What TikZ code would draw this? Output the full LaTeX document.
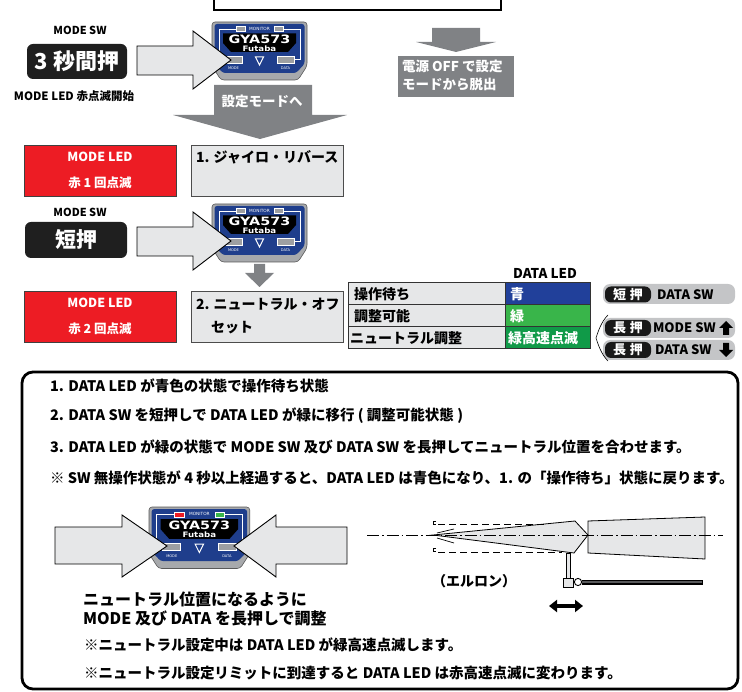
\documentclass[tikz,border=0pt]{standalone}
\usepackage{fontspec}
\setmainfont{Noto Sans CJK JP}
\newfontfamily\gyafont{DejaVu Sans}
\usetikzlibrary{arrows.meta}
\newcommand{\setfs}[1]{\fontsize{#1}{#1}\selectfont\bfseries}

\definecolor{ledred}{HTML}{ED1C24}
\definecolor{panel}{HTML}{E6E7E8}
\definecolor{flowgray}{HTML}{808285}
\definecolor{tblblue}{HTML}{21409A}
\definecolor{tblgreen}{HTML}{39B54A}
\definecolor{tbldkgreen}{HTML}{109A48}
\definecolor{devblue}{HTML}{1F3E8C}
\definecolor{devgray}{HTML}{A7A9AC}
\definecolor{btngray}{HTML}{9D9FA2}
\definecolor{pillgray}{HTML}{C4C5C7}
\definecolor{rodgray}{HTML}{58595B}

\tikzset{
  redbox/.style={fill=ledred, draw=black!75, line width=0.9, minimum width=152, minimum height=51, anchor=north west},
  panelbox/.style={fill=panel, draw=black!70, line width=0.9, minimum width=152, minimum height=51, anchor=north west},
  pressbox/.style={fill=black!88, rounded corners=6, anchor=north west, text=white},
  pusharrow/.style={fill=panel, draw=black, line width=0.9, line join=miter},
  flowarrow/.style={fill=flowgray},
  cell/.style={draw=black!80, line width=1, minimum width=#1, minimum height=22, anchor=north west},
  celltext/.style={anchor=west, font=\setfs{14}},
  pill/.style={fill=pillgray, rounded corners=7, minimum width=132, minimum height=20, anchor=north west},
  pillkey/.style={fill=black!90, rounded corners=6, text=white, font=\setfs{13}, minimum height=16, minimum width=46, anchor=west},
  pilltext/.style={anchor=west, font=\setfs{13}},
  note/.style={anchor=west, font=\setfs{14.5}},
  pics/gyro/.style 2 args={code={
    % housing with bevelled lower corners
    \fill[devgray, draw=black!65, line width=0.6, rounded corners=3]
      (0,0) -- (95,0) -- (95,44) -- (86,58) -- (9,58) -- (0,44) -- cycle;
    \fill[devblue, rounded corners=2.5]
      (2.5,2) -- (92.5,2) -- (92.5,42) -- (84,51) -- (11,51) -- (2.5,42) -- cycle;
    % white frame lines from the monitor LEDs to the buttons
    \draw[white, line width=0.7] (24,7) -- (7,7) -- (7,37.5) -- (13,37.5);
    \draw[white, line width=0.7] (71,7) -- (88,7) -- (88,37.5) -- (82,37.5);
    \fill[#1, draw=white, line width=0.3] (24,4.5) rectangle (33,9.5);
    \fill[#2, draw=white, line width=0.3] (62,4.5) rectangle (71,9.5);
    \node[text=white, font=\gyafont\fontsize{4.3}{5}\selectfont] at (47.5,7) {MONITOR};
    % name plate
    \fill[black] (11,11.5) -- (84,11.5) -- (84,21) -- (76,30) -- (19,30) -- (11,21) -- cycle;
    \node[text=white, font=\gyafont\bfseries\fontsize{11.5}{11}\selectfont, xscale=1.25] at (47.5,17.5) {GYA573};
    \node[text=white, font=\gyafont\bfseries\fontsize{7.5}{8}\selectfont, xscale=1.15] at (47.5,26.4) {Futaba};
    % push buttons
    \fill[btngray, draw=white, line width=0.8] (13,34) rectangle (30,41);
    \fill[btngray, draw=white, line width=0.8] (65,34) rectangle (82,41);
    \draw[white, line width=1, line join=miter] (43.5,35) -- (51.5,35) -- (47.5,43) -- cycle;
    \node[text=white, font=\gyafont\fontsize{3.6}{4}\selectfont] at (21.5,46.5) {MODE};
    \node[text=white, font=\gyafont\fontsize{3.6}{4}\selectfont] at (73.5,46.5) {DATA};
  }},
}

\begin{document}
\begin{tikzpicture}[x=1pt, y=-1pt, every node/.style={inner sep=0pt, outer sep=0pt}]
\useasboundingbox (0,0) rectangle (742,692);

% ---------- entering the setting mode ----------
\node[draw, line width=2, minimum width=287, minimum height=30, anchor=south west] (topbox) at (214,10.5) {};

\node[font=\setfs{11}] (sw1) at (80,30) {MODE SW};
\node[pressbox, minimum width=100, minimum height=35] (hold3) at (27,44) {};
\node[font=\setfs{22}, text=white] (hold3t) at (hold3.center) {3 秒間押};
\node[font=\setfs{11.5}] (blink) at (74,96) {MODE LED 赤点滅開始};

\pic (dev1) at (212,22) {gyro={btngray}{btngray}};
\draw[pusharrow] (137,46) -- (193,46) -- (193,31) -- (231,60) -- (193,89) -- (193,75) -- (137,75) -- cycle;

\fill[flowarrow] (214,85) -- (312,85) -- (312,115) -- (347,115) -- (260,139) -- (173,115) -- (214,115) -- cycle;
\node[font=\setfs{13.5}, text=white] (tomode) at (262,101) {設定モードへ};

\fill[flowarrow] (432,28) -- (480,28) -- (480,42) -- (496,42) -- (456,52) -- (416,42) -- (432,42) -- cycle;
\node[fill=flowgray, minimum width=116, minimum height=41, anchor=north west] (offbox) at (398,56) {};
\node[anchor=north west, align=left, text=white, font=\fontsize{13.5}{18}\selectfont\bfseries] (offtext) at (402,60) {電源 OFF で設定\\モードから脱出};

% ---------- step 1 ----------
\node[redbox] (red1) at (24,145) {};
\node[text=white, align=center, font=\fontsize{12.5}{26}\selectfont\bfseries] (red1t) at (100,170.5) {MODE LED\\赤 1 回点滅};
\node[panelbox] (step1) at (191,145) {};
\node[anchor=west, font=\setfs{14}] (step1t) at (196,157) {1. ジャイロ・リバース};

\node[font=\setfs{11}] (sw2) at (80,212) {MODE SW};
\node[pressbox, minimum width=102, minimum height=36] (short) at (25,222) {};
\node[font=\setfs{21}, text=white] (shortt) at (short.center) {短押};

\pic (dev2) at (212,204) {gyro={btngray}{btngray}};
\draw[pusharrow] (137,227) -- (193,227) -- (193,212) -- (231,241) -- (193,270) -- (193,256) -- (137,256) -- cycle;

\fill[flowarrow] (254,264) -- (265,264) -- (265,273) -- (274,273) -- (259.5,287) -- (245,273) -- (254,273) -- cycle;

% ---------- step 2 ----------
\node[redbox] (red2) at (24,291) {};
\node[text=white, align=center, font=\fontsize{12.5}{26}\selectfont\bfseries] (red2t) at (100,316.5) {MODE LED\\赤 2 回点滅};
\node[panelbox] (step2) at (191,291) {};
\node[anchor=west, font=\setfs{14}] (step2t) at (196,304) {2. ニュートラル・オフ};
\node[anchor=west, font=\setfs{14}] (step2u) at (211,328) {セット};

% DATA LED table
\node[font=\setfs{13.5}] (ledhead) at (545,273) {DATA LED};
\node[cell=157, fill=panel] (c11) at (348,283) {};
\node[cell=85, fill=tblblue] (c12) at (505,283) {};
\node[cell=157, fill=panel] (c21) at (348,305) {};
\node[cell=85, fill=tblgreen] (c22) at (505,305) {};
\node[cell=157, fill=panel] (c31) at (348,327) {};
\node[cell=85, fill=tbldkgreen] (c32) at (505,327) {};
\node[celltext] at ([xshift=6pt]c11.west) {操作待ち};
\node[celltext] at ([xshift=6pt]c21.west) {調整可能};
\node[celltext] at ([xshift=2pt]c31.west) {ニュートラル調整};
\node[celltext, text=white] at ([xshift=5pt]c12.west) {青};
\node[celltext, text=white] at ([xshift=5pt]c22.west) {緑};
\node[celltext, text=white] at ([xshift=3pt]c32.west) {緑高速点滅};

% switch operations
\node[pill] (p1) at (603,284) {};
\node[pillkey] (k1) at (605,294.5) {短\hspace{4pt}押};
\node[pilltext] (t1) at (657,294.5) {DATA SW};
\node[pill] (p2) at (603,318) {};
\node[pillkey] (k2) at (605,328) {長\hspace{4pt}押};
\node[pilltext] (t2) at (653,328) {MODE SW};
\fill (726,321) -- (733,328) -- (729,328) -- (729,335) -- (723,335) -- (723,328) -- (719,328) -- cycle;
\node[pill] (p3) at (603,340) {};
\node[pillkey] (k3) at (605,350) {長\hspace{4pt}押};
\node[pilltext] (t3) at (655,350) {DATA SW};
\fill (726,357) -- (733,350) -- (729,350) -- (729,343) -- (723,343) -- (723,350) -- (719,350) -- cycle;
\draw[line width=0.6] (608,315) .. controls (601,322) and (598,332) .. (596,338)
                                 .. controls (598,344) and (601,354) .. (608,361);

% ---------- explanation panel ----------
\node[draw, line width=2.8, rounded corners=11, minimum width=716, minimum height=317, anchor=north west] (panelframe) at (22,372) {};
\node[note] (n1) at (50,386) {1. DATA LED が青色の状態で操作待ち状態};
\node[note] (n2) at (50,416) {2. DATA SW を短押しで DATA LED が緑に移行 ( 調整可能状態 )};
\node[note] (n3) at (50,447) {3. DATA LED が緑の状態で MODE SW 及び DATA SW を長押してニュートラル位置を合わせます。};
\node[note] (n4) at (50,478) {※ SW 無操作状態が 4 秒以上経過すると、DATA LED は青色になり、1. の「操作待ち」状態に戻ります。};

\pic[scale=1.06] (dev3) at (149,507) {gyro={ledred}{tblgreen}};
\draw[pusharrow] (55,527) -- (122,527) -- (122,515) -- (167,546) -- (122,577) -- (122,564) -- (55,564) -- cycle;
\draw[pusharrow] (347,527) -- (276,527) -- (276,515) -- (234,546) -- (276,577) -- (276,564) -- (347,564) -- cycle;

\node[anchor=west, font=\setfs{16}] (neu1) at (83,599) {ニュートラル位置になるように};
\node[anchor=west, font=\setfs{16}] (neu2) at (83,618) {MODE 及び DATA を長押しで調整};
\node[note] (n5) at (84,645) {※ニュートラル設定中は DATA LED が緑高速点滅します。};
\node[note] (n6) at (84,673) {※ニュートラル設定リミットに到達すると DATA LED は赤高速点滅に変わります。};

% aileron and wing section
\draw[fill=panel, line width=0.8] (588,521) -- (705,517) -- (705,559) -- (588,553) -- cycle;
\draw[fill=panel, line width=0.8, line join=miter] (433,535) -- (575,521) -- (588,535) -- (574,553) -- cycle;
\draw[line width=0.7, dash pattern=on 7pt off 4pt] (438,524) -- (545,524);
\draw[line width=0.7, dash pattern=on 7pt off 4pt] (438,552) -- (562,552);
\draw[line width=0.7] (436,521.5) -- (433,521.5) -- (433,524.5) -- (436,524.5);
\draw[line width=0.7] (436,548) -- (433,548) -- (433,551) -- (436,551);
\draw[line width=0.7] (437,533) -- (454,529);
\draw[line width=0.7] (437,538) -- (454,543);
\draw[line width=0.7, dash pattern=on 12pt off 3pt on 1.5pt off 3pt] (367,535) -- (723,535);
% control horn and push rod
\draw[fill=panel, line width=0.7] (566,553) rectangle (570,579);
\draw[line width=5] (582,582) -- (703,582);
\draw[rodgray, line width=2.8] (582,582) -- (702,582);
\draw[fill=panel, line width=0.7] (563,578) rectangle (573,587);
\draw[fill=white, line width=0.9] (578,582) circle (3.6);
\node[font=\setfs{14}] (aileron) at (474,581) {（エルロン）};
\coordinate (movl) at (549,606);
\coordinate (movr) at (583,606);
\draw[line width=3.5, {Triangle[length=8pt,width=12pt]}-{Triangle[length=8pt,width=12pt]}] (movl) -- (movr);
\end{tikzpicture}
\end{document}
